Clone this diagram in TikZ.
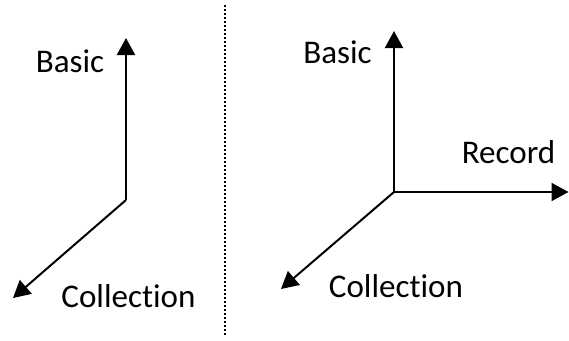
\documentclass[tikz,border=0pt]{standalone}
\usepackage{fontspec}
\setmainfont{Carlito}[Ligatures=NoCommon]
\usetikzlibrary{arrows.meta}
\newcommand{\coltext}{Collect\kern0pt ion}
\begin{document}
\begin{tikzpicture}[x=0.75pt,y=-0.75pt,
  axis/.style={line width=1.5pt,-{Triangle[length=12.75pt,width=13.5pt]}},
  lbl/.style={anchor=base,inner sep=0pt,font=\fontsize{24.8pt}{29pt}\selectfont},
  sep/.style={line width=1.6pt,dash pattern=on 1.6pt off 1.4pt}]
\useasboundingbox (0,0) rectangle (569,340);
% left
\coordinate (o1) at (126,200);
\coordinate (u1) at (126,38);
\coordinate (d1) at (13,298);
\draw[axis] (o1) -- (u1);
\draw[axis] (o1) -- (d1);
\node[lbl] (b1) at (70,72) {Basic};
\node[lbl] (c1) at (128.5,307) {\coltext};
% separator
\coordinate (s1) at (225,5);
\coordinate (s2) at (225,336);
\draw[sep] (s1) -- (s2);
% right
\coordinate (o2) at (394,192);
\coordinate (u2) at (394,31);
\coordinate (r2) at (568.5,192);
\coordinate (d2) at (281,289);
\draw[axis] (o2) -- (u2);
\draw[axis] (o2) -- (r2);
\draw[axis] (o2) -- (d2);
\node[lbl] (b2) at (337.5,63) {Basic};
\node[lbl] (r2l) at (508.5,163) {Record};
\node[lbl] (c2) at (396,297) {\coltext};
\end{tikzpicture}
\end{document}
